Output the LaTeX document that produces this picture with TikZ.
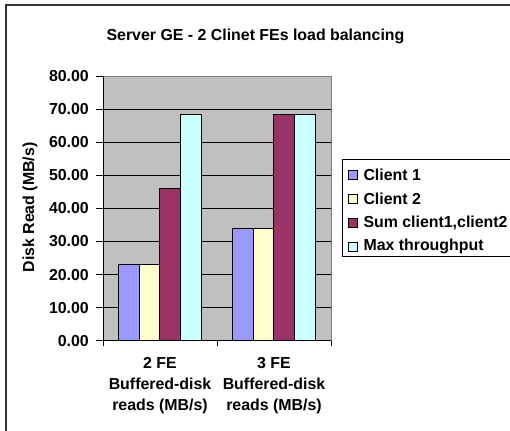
\documentclass[tikz,border=0pt]{standalone}
\usepackage{fontspec}
\setmainfont{Liberation Sans}[BoldFont={Liberation Sans Bold}]
\usetikzlibrary{positioning}
\definecolor{lgray}{RGB}{192,192,192}
\definecolor{dgray}{RGB}{128,128,128}
\definecolor{cone}{RGB}{153,153,255}
\definecolor{ctwo}{RGB}{255,255,204}
\definecolor{csum}{RGB}{153,51,102}
\definecolor{cmax}{RGB}{204,255,255}

\begin{document}
\begin{tikzpicture}[x=1pt,y=-1pt]
\tikzstyle{txt}=[font=\bfseries\fontsize{15.9}{21}\selectfont, inner sep=0pt]
\tikzstyle{ylab}=[txt, anchor=east]
\tikzstyle{bar}=[draw=black, line width=0.8pt]
\tikzstyle{gline}=[draw=black, line width=0.9pt]
\tikzstyle{lkey}=[rectangle, minimum size=9pt, inner sep=0pt, draw=black, line width=0.6pt]

	\useasboundingbox (0,0) rectangle (510,430);
	\fill[white] (0,0) rectangle (510,430);
	\draw[line width=1.6pt, draw=black!80] (6,440) -- (6,5) -- (520,5);

	\node[txt] (title) at (255.5,36) {Server GE - 2 Clinet FEs load balancing};
	\node[txt, rotate=90] (ytitle) at (30,207.5) {Disk Read (MB/s)};

\begin{scope}[shift={(103,340.7)}, x=1pt, y=3.306pt]
	% plot area
	\fill[lgray] (0,0) rectangle (228,80);
	\draw[dgray] (0,80) -- (228,80) -- (228,0);
	\path[gline]
		(0,10) -- (228,10)
		(0,20) -- (228,20)
		(0,30) -- (228,30)
		(0,40) -- (228,40)
		(0,50) -- (228,50)
		(0,60) -- (228,60)
		(0,70) -- (228,70);

	\node[ylab] (y0) at (-14,0) {0.00};
	\node[ylab] (y1) at (-14,10) {10.00};
	\node[ylab] (y2) at (-14,20) {20.00};
	\node[ylab] (y3) at (-14,30) {30.00};
	\node[ylab] (y4) at (-14,40) {40.00};
	\node[ylab] (y5) at (-14,50) {50.00};
	\node[ylab] (y6) at (-14,60) {60.00};
	\node[ylab] (y7) at (-14,70) {70.00};
	\node[ylab] (y8) at (-14,80) {80.00};

	% 2 FE
	\filldraw[bar, fill=cone] (15.3,0) rectangle (36,23);
	\filldraw[bar, fill=ctwo] (36,0) rectangle (56.7,23);
	\filldraw[bar, fill=csum] (56.7,0) rectangle (77.4,46);
	\filldraw[bar, fill=cmax] (77.4,0) rectangle (98.1,68.5);
	% 3 FE
	\filldraw[bar, fill=cone] (129.3,0) rectangle (150,34);
	\filldraw[bar, fill=ctwo] (150,0) rectangle (170.7,34);
	\filldraw[bar, fill=csum] (170.7,0) rectangle (191.4,68.5);
	\filldraw[bar, fill=cmax] (191.4,0) rectangle (212.1,68.5);

	% axes
	\path[gline]
		(0,0) -- (0,80)
		(0,0) -- (228,0)
		(0,-1.5) -- (0,0)
		(114,-1.5) -- (114,0)
		(228,-1.5) -- (228,0);
	\path[gline]
		(-7,0) -- (0,0)
		(-7,10) -- (0,10)
		(-7,20) -- (0,20)
		(-7,30) -- (0,30)
		(-7,40) -- (0,40)
		(-7,50) -- (0,50)
		(-7,60) -- (0,60)
		(-7,70) -- (0,70)
		(-7,80) -- (0,80);
\end{scope}

	\node[txt, align=center] (c2) at (160,386) {2 FE\\Buffered-disk\\reads (MB/s)};
	\node[txt, align=center] (c3) at (274,386) {3 FE\\Buffered-disk\\reads (MB/s)};

	% legend
	\draw[black, line width=0.8pt] (342.5,159.5) rectangle (520,256);
	\node[lkey, fill=cone] (k1) at (352.5,174.5) {};
	\node[lkey, fill=ctwo] (k2) at (352.5,198.5) {};
	\node[lkey, fill=csum] (k3) at (352.5,222.5) {};
	\node[lkey, fill=cmax] (k4) at (352.5,246.5) {};
	\node[txt, right=6pt of k1] (l1) {Client 1};
	\node[txt, right=6pt of k2] (l2) {Client 2};
	\node[txt, right=6pt of k3] (l3) {Sum client1,client2};
	\node[txt, right=6pt of k4] (l4) {Max throughput};

\end{tikzpicture}
\end{document}
